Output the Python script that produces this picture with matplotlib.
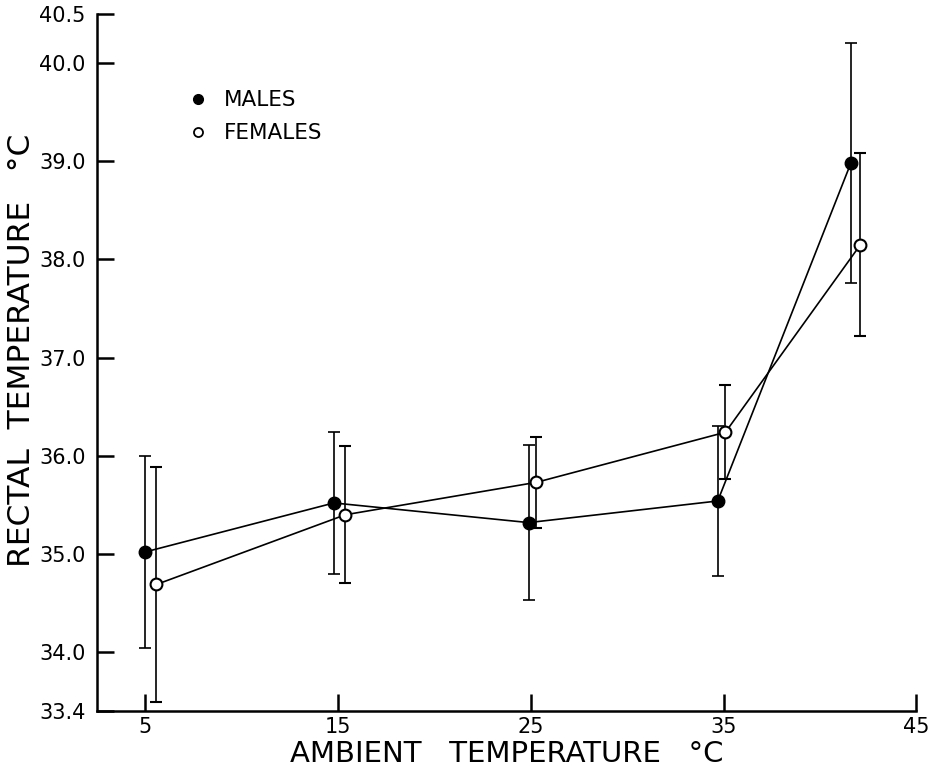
import matplotlib
matplotlib.use("Agg")
import matplotlib.pyplot as plt
from matplotlib.lines import Line2D

# ambient temperature (x positions as drawn, slightly offset per sex)
males_x = [5.0, 14.8, 24.9, 34.7, 41.6]
males_y = [35.02, 35.52, 35.32, 35.54, 38.98]
males_err = [0.98, 0.72, 0.79, 0.76, 1.22]

females_x = [5.6, 15.4, 25.3, 35.1, 42.1]
females_y = [34.69, 35.40, 35.73, 36.24, 38.15]
females_err = [1.20, 0.70, 0.46, 0.48, 0.93]

xticks = [5, 15, 25, 35, 45]
yticks = [33.4, 34.0, 35.0, 36.0, 37.0, 38.0, 39.0, 40.0, 40.5]
ytick_labels = ["33.4", "34.0", "35.0", "36.0", "37.0", "38.0", "39.0", "40.0", "40.5"]

plt.rcParams['font.family'] = ['DejaVu Sans']

fig = plt.figure(figsize=(9.38, 7.68), dpi=100)
ax = fig.add_axes([0.103, 0.074, 0.874, 0.908])

lw = 1.2
ax.errorbar(males_x, males_y, yerr=males_err, color="black", lw=lw,
            elinewidth=lw, capsize=4.5, capthick=lw, marker="o",
            markersize=9, markerfacecolor="black", markeredgecolor="black", zorder=2)
ax.errorbar(females_x, females_y, yerr=females_err, color="black", lw=lw,
            elinewidth=lw, capsize=4.5, capthick=lw, marker="o",
            markersize=8.5, markerfacecolor="white", markeredgecolor="black",
            markeredgewidth=1.5, zorder=3)

ax.set_xlim(2.5, 45)
ax.set_ylim(33.4, 40.5)
ax.set_xticks(xticks)
ax.set_xticklabels([str(v) for v in xticks])
ax.set_yticks(yticks)
ax.set_yticklabels(ytick_labels)

for s in ["top", "right"]:
    ax.spines[s].set_visible(False)
for s in ["left", "bottom"]:
    ax.spines[s].set_linewidth(1.8)

ax.tick_params(axis="both", direction="in", length=12, width=1.8,
               labelsize=15, pad=4)
ax.tick_params(axis="y", pad=8)

ax.set_xlabel("AMBIENT   TEMPERATURE   °C", fontsize=21, labelpad=2)
ax.set_ylabel("RECTAL  TEMPERATURE   °C", fontsize=22.5)
ax.yaxis.set_label_coords(-0.074, 0.517)

handles = [
    Line2D([], [], ls="none", marker="o", markersize=7, color="black"),
    Line2D([], [], ls="none", marker="o", markersize=6.5, markerfacecolor="white",
           markeredgecolor="black", markeredgewidth=1.3),
]
ax.legend(handles, ["MALES", "FEMALES"], loc="upper left",
          bbox_to_anchor=(0.087, 0.918), frameon=False, fontsize=15.5,
          handlelength=1.0, handletextpad=0.7, labelspacing=0.6)

fig.savefig("out.png", dpi=100)
